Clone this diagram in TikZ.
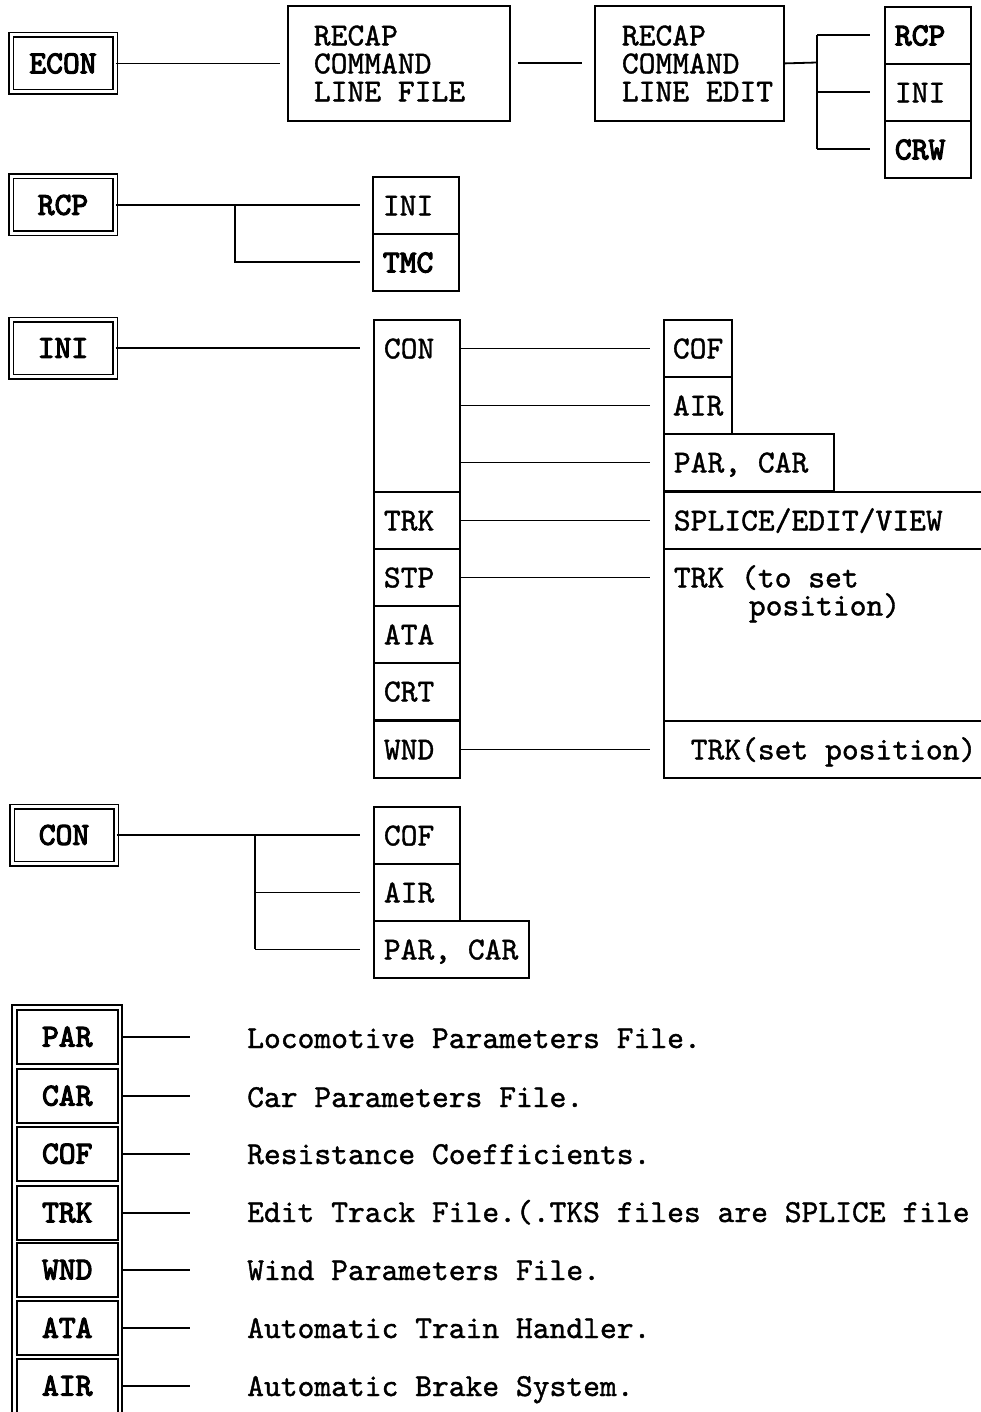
\documentclass[tikz,border=0pt]{standalone}
\usepackage{fontspec}
\newfontfamily\diagtt{lmmono10-regular.otf}[FakeBold=1.2]
\newfontfamily\diagttb{lmmono10-regular.otf}[FakeBold=3.5]
\newcommand\diagfont{\diagtt\fontsize{32}{28}\selectfont}

\tikzset{
  link/.style={line width=1.8pt},
  cell/.style={draw, line width=1.8pt, anchor=north west, inner xsep=10pt,
    inner ysep=18.5pt, text height=20pt, text depth=0pt, align=flush left, text width=#1},
  cell/.default=66pt,
  bigbox/.style={draw, line width=1.8pt, anchor=north west, minimum height=115pt,
    align=flush left, inner xsep=27pt, text width=#1},
  keybox/.style={draw, double, double distance=3pt, line width=1.5pt,
    minimum width=104pt, minimum height=57pt, inner sep=0pt, font=\diagfont\diagttb},
  legcell/.style={draw, line width=1.5pt, anchor=north west, minimum width=101pt,
    minimum height=54pt, inner sep=0pt, font=\diagfont\diagttb},
  desc/.style={anchor=base west, inner sep=0pt}
}

\begin{document}
\begin{tikzpicture}[x=1pt, y=-1pt, font=\diagfont]
  \useasboundingbox (0,0) rectangle (981,1412);

  % ECON and the command line boxes
  \node[keybox] (econ) at (63,63.5) {ECON};
  \node[bigbox=170pt, inner xsep=26pt] (recfile) at (287,5) {RECAP\\COMMAND\\LINE FILE};
  \node[bigbox=135pt] (recedit) at (594,5) {RECAP\\COMMAND\\\mbox{LINE EDIT}};
  \node[cell] (edrcp) at (884,6) {\diagttb RCP};
  \node[cell] (edini) at (884,63) {INI};
  \node[cell] (edcrw) at (884,120) {\diagttb CRW};

  \draw[link, shorten >=7pt] (econ.east) -- (econ.east -| recfile.west);
  \draw[link, shorten <=7pt, shorten >=12pt] (recfile.east) -- (recedit.west);
  \coordinate (edbr) at (817,62.5);
  \draw[link] (recedit.east) -- (edbr);
  \draw[link] (edbr |- edrcp.west) -- (edbr |- edcrw.west);
  \draw[link, shorten >=14pt] (edbr |- edrcp.west) -- (edrcp.west);
  \draw[link, shorten >=14pt] (edbr |- edini.west) -- (edini.west);
  \draw[link, shorten >=14pt] (edbr |- edcrw.west) -- (edcrw.west);

  % RCP
  \node[keybox] (rcpkey) at (63,205) {RCP};
  \node[cell] (rcpini) at (372,176) {INI};
  \node[cell] (rcptmc) at (372,233) {\diagttb TMC};
  \coordinate (rcpbr) at (235,205);
  \draw[link, shorten >=12pt] (rcpkey.east) -- (rcpkey.east -| rcpini.west);
  \draw[link, shorten >=12pt] (rcpbr) |- (rcptmc.west);

  % INI
  \node[keybox] (inikey) at (63,348) {INI};
  \node[cell, text depth=115pt] (colcon) at (373,319) {CON};
  \node[cell] (coltrk) at (373,491) {TRK};
  \node[cell] (colstp) at (373,548) {STP};
  \node[cell] (colata) at (373,605) {ATA};
  \node[cell] (colcrt) at (373,662) {CRT};
  \node[cell] (colwnd) at (373,720) {WND};

  \node[cell=50pt, inner xsep=9pt] (cofbox) at (663,319) {COF};
  \node[cell=50pt, inner xsep=9pt] (airbox) at (663,376) {AIR};
  \node[cell=150pt] (parcar) at (663,433) {PAR, CAR};
  \node[cell=320pt] (splice) at (663,491) {SPLICE/EDIT/VIEW};
  \node[cell=320pt, text depth=115pt] (trkset) at (663,548) {TRK (to set\\\hspace*{75pt}position)};
  \node[cell=320pt] (trkpos) at (663,720) {\hspace*{16.8pt}TRK(set position)};

  \draw[link, shorten >=13pt] (inikey.east) -- (inikey.east -| colcon.west);
  \draw[link, shorten >=13pt] (cofbox.west -| colcon.east) -- (cofbox.west);
  \draw[link, shorten >=13pt] (airbox.west -| colcon.east) -- (airbox.west);
  \draw[link, shorten >=13pt] (parcar.west -| colcon.east) -- (parcar.west);
  \draw[link, shorten >=13pt] (coltrk.east) -- (splice.west);
  \draw[link, shorten >=13pt] (colstp.east) -- (colstp.east -| trkset.west);
  \draw[link, shorten >=13pt] (colwnd.east) -- (trkpos.west);

  % CON
  \node[keybox] (conkey) at (64,835) {CON};
  \node[cell] (concof) at (373,806) {COF};
  \node[cell] (conair) at (373,863) {AIR};
  \node[cell=135pt] (conpar) at (373,920) {PAR, CAR};
  \coordinate (conbr) at (255,835);
  \draw[link, shorten >=13pt] (conkey.east) -- (conkey.east -| concof.west);
  \draw[link] (conbr) -- (conbr |- conpar.west);
  \draw[link, shorten >=13pt] (conbr |- conair.west) -- (conair.west);
  \draw[link, shorten >=13pt] (conbr |- conpar.west) -- (conpar.west);

  % file legend
  \node[draw, line width=1.5pt, anchor=north west, minimum width=110pt,
    minimum height=430pt] (legframe) at (11,1004) {};
  \node[legcell] (legpar) at (16,1009) {PAR};
  \node[legcell] (legcar) at (16,1068) {CAR};
  \node[legcell] (legcof) at (16,1126) {COF};
  \node[legcell] (legtrk) at (16,1185) {TRK};
  \node[legcell] (legwnd) at (16,1242) {WND};
  \node[legcell] (legata) at (16,1300) {ATA};
  \node[legcell] (legair) at (16,1358) {AIR};

  \node[desc] (descpar) at (247,1048) {Locomotive Parameters File.};
  \node[desc] (desccar) at (247,1107) {Car Parameters File.};
  \node[desc] (desccof) at (247,1164) {Resistance Coefficients.};
  \node[desc] (desctrk) at (247,1222) {Edit Track File.(.TKS files are SPLICE file};
  \node[desc] (descwnd) at (247,1280) {Wind Parameters File.};
  \node[desc] (descata) at (247,1338) {Automatic Train Handler.};
  \node[desc] (descair) at (247,1396) {Automatic Brake System.};

  \draw[link, shorten <=4pt, shorten >=57pt] (legpar.east) -- (legpar.east -| descpar.west);
  \draw[link, shorten <=4pt, shorten >=57pt] (legcar.east) -- (legcar.east -| desccar.west);
  \draw[link, shorten <=4pt, shorten >=57pt] (legcof.east) -- (legcof.east -| desccof.west);
  \draw[link, shorten <=4pt, shorten >=57pt] (legtrk.east) -- (legtrk.east -| desctrk.west);
  \draw[link, shorten <=4pt, shorten >=57pt] (legwnd.east) -- (legwnd.east -| descwnd.west);
  \draw[link, shorten <=4pt, shorten >=57pt] (legata.east) -- (legata.east -| descata.west);
  \draw[link, shorten <=4pt, shorten >=57pt] (legair.east) -- (legair.east -| descair.west);
\end{tikzpicture}
\end{document}
